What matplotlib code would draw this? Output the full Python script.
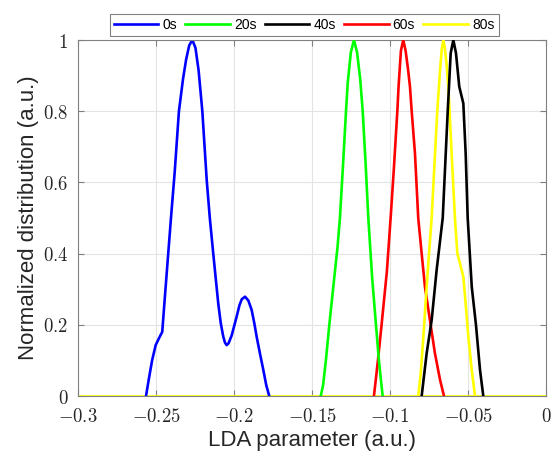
import matplotlib
matplotlib.use("Agg")
import matplotlib.pyplot as plt

# ---------------- data ----------------
labels = ["0s", "20s", "40s", "60s", "80s"]
colors = ["#0000ff", "#00ff00", "#000000", "#ff0000", "#ffff00"]

x_0s = [-0.2564, -0.2545, -0.2525, -0.2502, -0.2480, -0.2460, -0.2448, -0.2434,
        -0.2404, -0.2380, -0.2353, -0.2327, -0.2307, -0.2287, -0.2267, -0.2247,
        -0.2227, -0.2203, -0.2175, -0.2155, -0.2133, -0.2101, -0.2085, -0.2069,
        -0.2058, -0.2047, -0.2035, -0.2015, -0.1998, -0.1983, -0.1965, -0.1950,
        -0.1929, -0.1908, -0.1887, -0.1870, -0.1855, -0.1833, -0.1812, -0.1793,
        -0.1774]
y_0s = [0.0, 0.05, 0.10, 0.143, 0.163, 0.18, 0.25, 0.33,
        0.50, 0.63, 0.80, 0.89, 0.945, 0.985, 1.0, 0.978,
        0.915, 0.80, 0.607, 0.50, 0.40, 0.26, 0.205, 0.167,
        0.150, 0.143, 0.148, 0.170, 0.198, 0.223, 0.255, 0.272,
        0.279, 0.268, 0.242, 0.205, 0.167, 0.118, 0.073, 0.03,
        0.0]

x_20s = [-0.1444, -0.1429, -0.1411, -0.1389, -0.1353, -0.1336, -0.1321, -0.1301,
         -0.1282, -0.1271, -0.1251, -0.1231, -0.1211, -0.1191, -0.1175, -0.1156,
         -0.1139, -0.1114, -0.1090, -0.1071, -0.1057, -0.1047]
y_20s = [0.0, 0.03, 0.10, 0.20, 0.35, 0.42, 0.50, 0.65,
         0.80, 0.88, 0.965, 1.0, 0.965, 0.89, 0.80, 0.65,
         0.50, 0.33, 0.20, 0.10, 0.04, 0.0]

x_40s = [-0.0797, -0.0765, -0.0733, -0.0701, -0.0662, -0.0630, -0.0611, -0.0594,
         -0.0577, -0.0556, -0.0530, -0.0515, -0.0502, -0.0476, -0.0449, -0.0423,
         -0.0402]
y_40s = [0.0, 0.12, 0.213, 0.354, 0.50, 0.80, 0.963, 1.0,
         0.963, 0.869, 0.822, 0.682, 0.50, 0.307, 0.20, 0.073,
         0.0]

x_60s = [-0.1103, -0.1090, -0.1075, -0.1054, -0.1020, -0.0996, -0.0975, -0.0953,
         -0.0945, -0.0930, -0.0915, -0.0900, -0.0885, -0.0872, -0.0861, -0.0840,
         -0.0819, -0.0797, -0.0776, -0.0744, -0.0712, -0.0679, -0.0654]
y_60s = [0.0, 0.05, 0.11, 0.20, 0.35, 0.50, 0.64, 0.80,
         0.87, 0.97, 1.0, 0.97, 0.92, 0.869, 0.80, 0.682,
         0.50, 0.40, 0.307, 0.213, 0.12, 0.045, 0.0]

x_80s = [-0.0819, -0.0803, -0.0786, -0.0765, -0.0750, -0.0733, -0.0715, -0.0697,
         -0.0679, -0.0668, -0.0658, -0.0648, -0.0637, -0.0626, -0.0605, -0.0583,
         -0.0568, -0.0550, -0.0530, -0.0515, -0.0498, -0.0476, -0.0455]
y_80s = [0.0, 0.064, 0.167, 0.307, 0.40, 0.50, 0.65, 0.80,
         0.916, 0.975, 1.0, 0.975, 0.93, 0.869, 0.682, 0.494,
         0.40, 0.37, 0.335, 0.26, 0.167, 0.073, 0.0]

xs = [x_0s, x_20s, x_40s, x_60s, x_80s]
ys = [y_0s, y_20s, y_40s, y_60s, y_80s]

x_ticks = [-0.3, -0.25, -0.2, -0.15, -0.1, -0.05, 0]
y_ticks = [0, 0.2, 0.4, 0.6, 0.8, 1]
x_min, x_max = -0.3, 0.0

# ---------------- figure ----------------
plt.rcParams["mathtext.fontset"] = "cm"
fig = plt.figure(figsize=(5.52, 4.59), dpi=100)
ax = fig.add_axes([78/552, 63/459, 468/552, 356/459])

# baseline of the 80s curve spans the full axis range
ax.plot([x_min, x_max], [0, 0], color=colors[4], lw=1.9, zorder=1,
        solid_capstyle="butt")

handles = {}
order = [0, 3, 1, 4, 2]
for z, i in enumerate(order):
    (h,) = ax.plot(xs[i], ys[i], color=colors[i], lw=1.9, zorder=2 + z,
                   label=labels[i], solid_joinstyle="round")
    handles[i] = h

ax.set_xlim(x_min, x_max)
ax.set_ylim(0, 1)
ax.set_xticks(x_ticks)
ax.set_yticks(y_ticks)

def fmt(v):
    s = f"{v:g}"
    if s.startswith("-"):
        s = "-" + s[1:]
    return "$" + s + "$"

ax.set_xticklabels([fmt(v) for v in x_ticks])
ax.set_yticklabels([fmt(v) for v in y_ticks])

ax.grid(True, color="#e3e3e3", lw=0.8)
ax.set_axisbelow(True)
for s in ax.spines.values():
    s.set_color("#808080")
    s.set_linewidth(0.8)
ax.tick_params(direction="in", length=4, width=0.8, color="#808080",
               top=True, right=True, labelsize=13.5, labelcolor="#262626")
ax.tick_params(axis="y", pad=7)
ax.tick_params(axis="x", pad=8)

ax.set_xlabel("LDA parameter (a.u.)", fontsize=16, family="Liberation Sans",
              color="#262626", labelpad=3)
ax.set_ylabel("Normalized distribution (a.u.)", fontsize=16,
              family="Liberation Sans", color="#262626", labelpad=3)

leg = ax.legend([handles[i] for i in range(5)], labels, ncol=5,
                loc="center", bbox_to_anchor=(0.483, 1.043),
                frameon=True, fancybox=False, framealpha=1,
                edgecolor="#808080", handlelength=3.2, handletextpad=0.3,
                columnspacing=0.6, borderpad=0.3,
                prop={"family": "Liberation Sans", "size": 10})
leg.get_frame().set_linewidth(0.8)

fig.savefig("out.png", dpi=100)
